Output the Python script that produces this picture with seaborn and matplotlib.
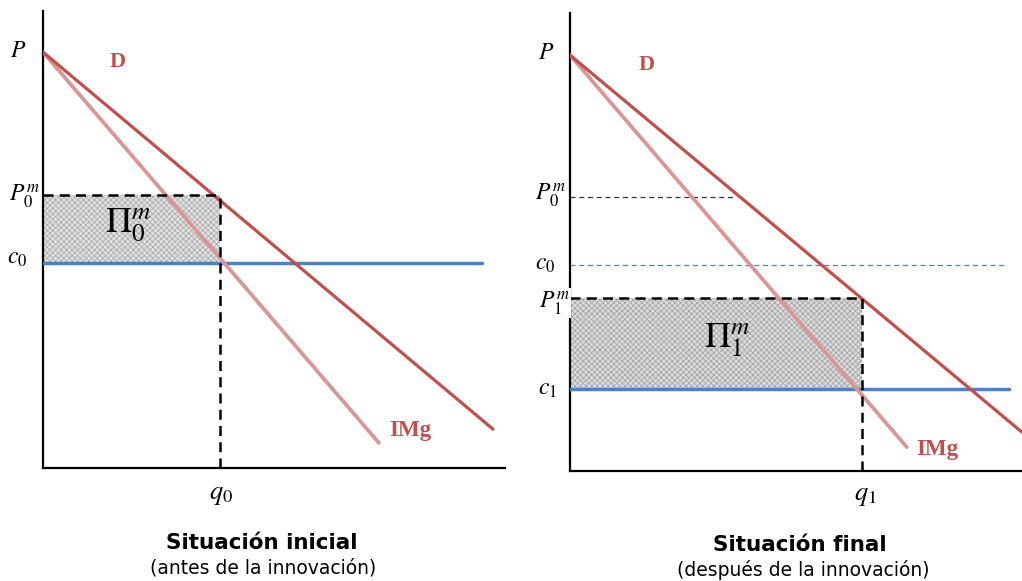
import matplotlib
matplotlib.use('Agg')
import matplotlib.pyplot as plt
import seaborn as sns
import pandas as pd

# values (each panel in its own 0-100 units)
panels = ['inicial', 'final']
p_intercept = [91.0, 90.8]
d_end = [(97.4, 8.5), (97.8, 8.5)]
img_end = [(72.7, 5.5), (72.9, 5.2)]
c0_level = [44.9, 45.0]
c0_end = [95.0, 94.2]
pm0_level = [59.7, 59.8]
q0_value = 38.3
pm1_level = 37.8
q1_value = 63.2
c1_level = 17.9
c1_end = 95.0
pm0_ref_end = 35.7

titles = ['Situación inicial', 'Situación final']
subtitles = ['(antes de la innovación)', '(después de la innovación)']

RED = '#c0504d'
PINK = '#d99694'
BLUE = '#4f81bd'

sns.set_style('white')
plt.rcParams['text.color'] = 'black'
plt.rcParams['mathtext.fontset'] = 'stix'
plt.rcParams['hatch.linewidth'] = 0.5
plt.rcParams['hatch.color'] = '#a4a4a4'

fig = plt.figure(figsize=(10.22, 5.81), dpi=100)
W, H = 1022, 581
ax_left = fig.add_axes([43 / W, (581 - 468) / H, 462 / W, 457 / H])
ax_right = fig.add_axes([570 / W, (581 - 471) / H, 462 / W, 458 / H])


def setup(ax):
    ax.set_xlim(0, 100)
    ax.set_ylim(0, 100)
    ax.set_xticks([])
    ax.set_yticks([])
    for s in ['top', 'right']:
        ax.spines[s].set_visible(False)
    for s in ['left', 'bottom']:
        ax.spines[s].set_color('black')
        ax.spines[s].set_linewidth(1.6)
    ax.patch.set_alpha(0)


def curves(ax, i):
    df_d = pd.DataFrame({'q': [0, d_end[i][0]], 'p': [p_intercept[i], d_end[i][1]]})
    df_img = pd.DataFrame({'q': [0, img_end[i][0]], 'p': [p_intercept[i], img_end[i][1]]})
    sns.lineplot(data=df_img, x='q', y='p', ax=ax, color=PINK, lw=2.7, zorder=4)
    sns.lineplot(data=df_d, x='q', y='p', ax=ax, color=RED, lw=2.3, zorder=5)
    ax.set_xlabel('')
    ax.set_ylabel('')


serif = 'Liberation Serif'
dash = (0, (4, 2.5))

# left panel
ax = ax_left
setup(ax)
ax.fill_between([0, q0_value], c0_level[0], pm0_level[0], facecolor='#e0e0e0',
                edgecolor='#a8a8a8', hatch='xxxxxx', lw=0, zorder=1)
curves(ax, 0)
ax.plot([0, c0_end[0]], [c0_level[0]] * 2, color=BLUE, lw=2.5, zorder=3)
ax.plot([0, q0_value], [pm0_level[0]] * 2, color='black', lw=1.8, ls=dash, zorder=6)
ax.plot([q0_value, q0_value], [0, pm0_level[0]], color='black', lw=1.8, ls=dash, zorder=6)
ax.text(-5.4, 91.5, '$P$', fontsize=17, ha='center', va='center')
ax.text(16.2, 88.8, 'D', family=serif, fontweight='bold', fontsize=16, color=RED, ha='center', va='center')
ax.text(-4.1, 59.5, '$P_0^m$', fontsize=17, ha='center', va='center')
ax.text(-5.6, 46.2, '$c_0$', fontsize=17, ha='center', va='center')
ax.text(18.4, 53.2, r'$\Pi_0^m$', fontsize=26, ha='center', va='center', zorder=7)
ax.text(79.4, 8.3, 'IMg', family=serif, fontweight='bold', fontsize=16.5, color=RED, ha='center', va='center')
ax.text(38.5, -5.7, '$q_0$', fontsize=19, ha='center', va='center')
ax.text(47.4, -16.4, titles[0], fontsize=15.5, fontweight='bold', ha='center', va='center')
ax.text(47.6, -21.9, subtitles[0], fontsize=13.5, ha='center', va='center')

# right panel
ax = ax_right
setup(ax)
ax.fill_between([0, q1_value], c1_level, pm1_level, facecolor='#dadada',
                edgecolor='#a0a0a0', hatch='xxxxxx', lw=0, zorder=1)
curves(ax, 1)
ax.plot([0, c1_end], [c1_level] * 2, color=BLUE, lw=2.5, zorder=3)
ax.plot([0, c0_end[1]], [c0_level[1]] * 2, color=BLUE, lw=0.9, ls=(0, (4, 3)), zorder=3)
ax.plot([0, pm0_ref_end], [pm0_level[1]] * 2, color='#333333', lw=0.9, ls=(0, (4, 3)), zorder=3)
ax.plot([0, q1_value], [pm1_level] * 2, color='black', lw=1.8, ls=dash, zorder=6)
ax.plot([q1_value, q1_value], [0, pm1_level], color='black', lw=1.8, ls=dash, zorder=6)
ax.text(-5.2, 91.5, '$P$', fontsize=17, ha='center', va='center')
ax.text(16.5, 88.6, 'D', family=serif, fontweight='bold', fontsize=16, color=RED, ha='center', va='center')
ax.text(-4.3, 60.3, '$P_0^m$', fontsize=17, ha='center', va='center')
ax.text(-5.4, 45.4, '$c_0$', fontsize=17, ha='center', va='center')
ax.text(-3.5, 36.7, '$P_1^m$', fontsize=17, ha='center', va='center', zorder=8,
        bbox=dict(facecolor='white', edgecolor='none', pad=1.0))
ax.text(-4.8, 18.1, '$c_1$', fontsize=17, ha='center', va='center')
ax.text(34.0, 28.6, r'$\Pi_1^m$', fontsize=26, ha='center', va='center', zorder=7)
ax.text(79.4, 4.6, 'IMg', family=serif, fontweight='bold', fontsize=16.5, color=RED, ha='center', va='center')
ax.text(63.9, -5.2, '$q_1$', fontsize=19, ha='center', va='center')
ax.text(49.8, -16.2, titles[1], fontsize=15.5, fontweight='bold', ha='center', va='center')
ax.text(50.4, -21.6, subtitles[1], fontsize=13.5, ha='center', va='center')

fig.savefig('out.png', dpi=100)
